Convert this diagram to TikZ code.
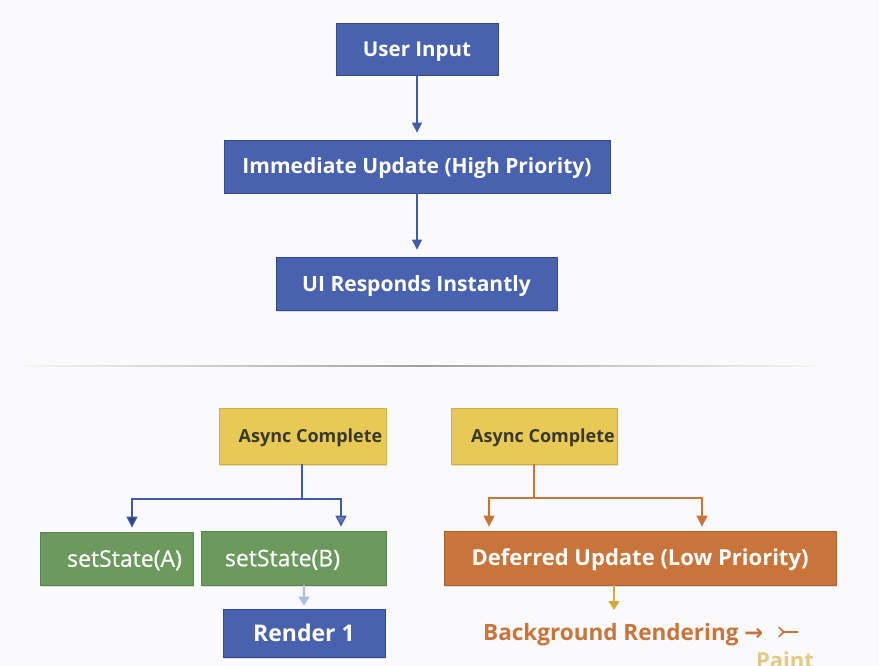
\documentclass[tikz,border=0pt]{standalone}
\usepackage{fontspec}
\setmainfont{Open Sans}
\newfontfamily\medfont{Open Sans}[FakeBold=0.5]
\newfontfamily\symfont{DejaVu Sans}
\usetikzlibrary{arrows.meta,shadows}

\definecolor{bgc}{HTML}{FAFAFC}
\definecolor{bluebox}{HTML}{4862B0}
\definecolor{blueedge}{HTML}{34498F}
\definecolor{greenbox}{HTML}{6C9A5E}
\definecolor{greenedge}{HTML}{5A8550}
\definecolor{yellowbox}{HTML}{E9C955}
\definecolor{yellowedge}{HTML}{D2B040}
\definecolor{yellowtext}{HTML}{3A3A2C}
\definecolor{orangebox}{HTML}{C8743A}
\definecolor{orangeedge}{HTML}{B0602C}
\definecolor{lineblue}{HTML}{3F5BAA}
\definecolor{navyhead}{HTML}{383A8A}
\definecolor{palehead}{HTML}{A8BEE0}
\definecolor{lineorange}{HTML}{C8743A}
\definecolor{goldhead}{HTML}{D4A83C}
\definecolor{paintc}{HTML}{E2CB80}

\tikzset{
  x=1pt, y=-1pt,
  box/.style={rectangle, draw, line width=0.8pt, text=white,
    inner sep=0pt, text height=15pt, text depth=0pt,
    drop shadow={opacity=0.25, shadow xshift=1pt, shadow yshift=-1.5pt}},
  bluebx/.style={box, fill=bluebox, draw=blueedge},
  greenbx/.style={box, fill=greenbox, draw=greenedge, text height=16.5pt, font=\medfont\fontsize{23}{26}\selectfont},
  yellowbx/.style={box, fill=yellowbox, draw=yellowedge, text=yellowtext, text height=13pt, font=\bfseries\fontsize{18}{22}\selectfont},
  orangebx/.style={box, fill=orangebox, draw=orangeedge},
  flow/.style={line width=1.2pt, -{Triangle[width=10pt,length=10pt]}},
}

\begin{document}
\begin{tikzpicture}
  \useasboundingbox (0,0) rectangle (879,666);
  \clip (0,0) rectangle (879,666);
  \fill[bgc] (0,0) rectangle (879,666);

  % upper path: high priority update
  \node[bluebx, minimum width=162pt, minimum height=52pt, font=\bfseries\fontsize{20.5}{24}\selectfont] (input) at (417,49) {User Input};
  \node[bluebx, minimum width=386pt, minimum height=53pt, font=\bfseries\fontsize{21}{24}\selectfont] (immediate) at (417,166.5) {Immediate Update (High Priority)};
  \node[bluebx, minimum width=281pt, minimum height=53pt, font=\bfseries\fontsize{21}{24}\selectfont] (instant) at (416.5,283.5) {UI Responds Instantly};

  \draw[flow, lineblue, shorten >=7pt] (input.south) -- (input.south |- immediate.north);
  \draw[flow, lineblue, shorten >=7pt] (immediate.south) -- (immediate.south |- instant.north);

  % separator
  \shade[left color=gray!8, right color=gray!8, middle color=gray!75] (24,365.3) rectangle (818,366.8);

  % lower left: batched state updates
  \node[yellowbx, minimum width=167pt, minimum height=56pt] (asyncL) at (302.5,436) {\hspace*{16pt}Async Complete};
  \node[greenbx, minimum width=153pt, minimum height=53pt] (stA) at (116.5,558.5) {\hspace*{16pt}setState(A)};
  \node[greenbx, minimum width=185pt, minimum height=54pt] (stB) at (293.5,558) {setState(B)\hspace*{22pt}};
  \node[bluebx, minimum width=162pt, minimum height=48pt, text height=16.5pt, font=\bfseries\fontsize{23}{26}\selectfont] (render) at (304,633) {Render 1};

  \coordinate (splitL) at (302,499);
  \draw[lineblue, line width=1.3pt] (asyncL.south -| splitL) -- (splitL);
  \draw[lineblue, line width=1.3pt, -{Triangle[width=11pt,length=11pt,fill=navyhead]}, shorten >=4pt]
    (splitL) -| (stA.north -| 132,0);
  \draw[lineblue, line width=1.3pt, -{Triangle[width=11pt,length=11pt,fill=lineblue!80!white]}, shorten >=4pt]
    (splitL) -| (stB.north -| 341,0);
  \draw[palehead, line width=1.2pt, -{Triangle[width=11pt,length=9pt]}, shorten >=3pt]
    (stB.south -| render.north) -- (render.north);

  % lower right: deferred update
  \node[yellowbx, minimum width=166pt, minimum height=56pt] (asyncR) at (534,436) {\hspace*{18pt}Async Complete};
  \node[orangebx, minimum width=392pt, minimum height=54pt, text height=15.7pt, font=\bfseries\fontsize{22}{26}\selectfont] (deferred) at (640,558) {Deferred Update (Low Priority)};

  \coordinate (splitR) at (534,498);
  \draw[lineorange, line width=1.3pt] (asyncR.south) -- (splitR);
  \draw[lineorange, line width=1.3pt, -{Triangle[width=11pt,length=11pt]}, shorten >=4pt]
    (splitR) -| (deferred.north -| 489,0);
  \draw[lineorange, line width=1.3pt, -{Triangle[width=11pt,length=11pt]}, shorten >=4pt]
    (splitR) -| (deferred.north -| 702,0);

  \node[anchor=base west, inner sep=0pt, text=lineorange, font=\bfseries\fontsize{22.5}{26}\selectfont] (bgrender) at (483,640)
    {Background Rendering {\symfont →}};
  % arrow-tail mark after the arrow
  \coordinate (tail) at (779,632);
  \draw[lineorange, line width=1.6pt, line cap=round] (tail) ++(0,-4.5) -- ++(5,4.5) -- ++(-5,4.5);
  \draw[lineorange, line width=1.6pt] (tail) ++(3,0) -- ++(16,0);
  \draw[goldhead, line width=1.2pt, -{Triangle[width=11pt,length=9pt]}]
    (deferred.south -| 614,0) -- (614,610);
  \node[anchor=base, inner sep=0pt, text=paintc, font=\bfseries\fontsize{22}{26}\selectfont] (paint) at (785,668) {Paint};
\end{tikzpicture}
\end{document}
